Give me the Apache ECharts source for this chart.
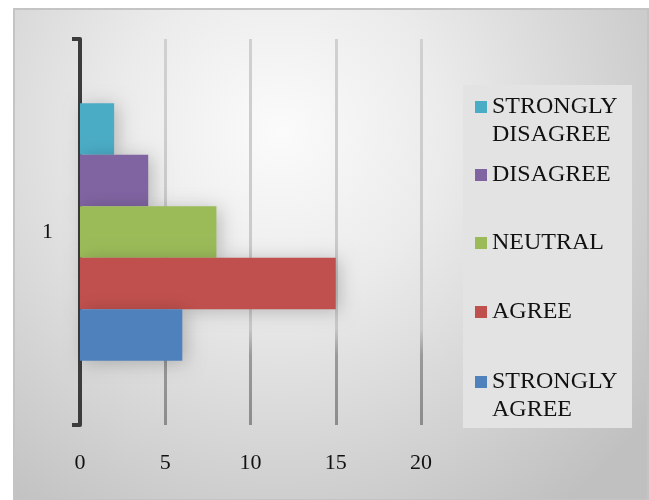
<!DOCTYPE html>
<html>
<head>
<meta charset="utf-8">
<script src="https://cdn.jsdelivr.net/npm/echarts@6/dist/echarts.min.js"></script>
<style>
html,body{margin:0;padding:0;background:#fff;}
#chart{width:649px;height:500px;}
</style>
</head>
<body>
<div id="chart"></div>
<script>
const categories = ['1'];
const seriesNames = ['STRONGLY DISAGREE', 'DISAGREE', 'NEUTRAL', 'AGREE', 'STRONGLY AGREE'];
const stronglyDisagree = [2];
const disagree = [4];
const neutral = [8];
const agree = [15];
const stronglyAgree = [6];
const seriesValues = [stronglyDisagree, disagree, neutral, agree, stronglyAgree];
const colors = ['#4BACC6', '#8064A2', '#9BBB59', '#C0504D', '#4F81BD'];
const xTicks = [0, 5, 10, 15, 20];

const FONT = '"Liberation Serif", "DejaVu Serif", serif';

const legendLabels = {
  'STRONGLY DISAGREE': '\nSTRONGLY\nDISAGREE',
  'DISAGREE': 'DISAGREE',
  'NEUTRAL': 'NEUTRAL',
  'AGREE': 'AGREE',
  'STRONGLY AGREE': '\nSTRONGLY\nAGREE'
};
const legendTops = {
  'STRONGLY DISAGREE': 65,
  'DISAGREE': 161,
  'NEUTRAL': 229,
  'AGREE': 298,
  'STRONGLY AGREE': 340
};

const legends = seriesNames.map(function (name) {
  return {
    data: [name],
    left: 475,
    top: legendTops[name],
    padding: 0,
    itemWidth: 12,
    itemHeight: 12,
    itemGap: 5,
    icon: 'rect',
    selectedMode: false,
    formatter: function (n) { return legendLabels[n]; },
    textStyle: {
      fontFamily: FONT,
      fontSize: 24,
      color: '#111',
      lineHeight: 28
    }
  };
});

const chart = echarts.init(document.getElementById('chart'), null, {renderer: 'canvas'});

chart.setOption({
  backgroundColor: '#ffffff',
  animation: false,
  graphic: [
    {
      type: 'rect',
      z: -10,
      silent: true,
      shape: {x: 14, y: 9, width: 634, height: 491},
      style: {
        fill: {
          type: 'radial', x: 0.42, y: 0.25, r: 0.95,
          colorStops: [
            {offset: 0, color: '#fbfbfb'},
            {offset: 0.35, color: '#ebebeb'},
            {offset: 1, color: '#c0c0c0'}
          ]
        },
        stroke: '#c4c4c4',
        lineWidth: 2
      }
    },
    {
      type: 'rect',
      z: -5,
      silent: true,
      shape: {x: 463, y: 85, width: 169, height: 343},
      style: {fill: '#e3e3e3'}
    }
  ],
  legend: legends,
  grid: {left: 80, top: 39, width: 341, height: 386, containLabel: false},
  xAxis: {
    type: 'value',
    min: xTicks[0],
    max: xTicks[xTicks.length - 1],
    interval: 5,
    axisLine: {show: false},
    axisTick: {show: false},
    axisLabel: {
      margin: 27,
      fontFamily: FONT,
      fontSize: 22,
      color: '#111'
    },
    splitLine: {
      show: true,
      lineStyle: {
        width: 3,
        color: {
          type: 'linear', x: 0, y: 39, x2: 0, y2: 425, global: true,
          colorStops: [
            {offset: 0, color: '#d0d0d0'},
            {offset: 0.75, color: '#c8c8c8'},
            {offset: 0.82, color: '#9a9a9a'},
            {offset: 1, color: '#8c8c8c'}
          ]
        }
      }
    }
  },
  yAxis: {
    type: 'category',
    data: categories,
    axisLine: {show: true, lineStyle: {color: '#3c3c3c', width: 4}},
    axisTick: {show: true, length: 8, lineStyle: {color: '#3c3c3c', width: 4}},
    axisLabel: {
      margin: 27,
      fontFamily: FONT,
      fontSize: 22,
      color: '#111'
    }
  },
  series: seriesNames.map(function (name, i) {
    return {
      name: name,
      type: 'bar',
      data: seriesValues[i],
      barGap: '0%',
      barCategoryGap: '33.3%',
      itemStyle: {
        color: colors[i],
        shadowBlur: 18,
        shadowColor: 'rgba(0,0,0,0.22)',
        shadowOffsetX: 4,
        shadowOffsetY: 2
      },
      emphasis: {disabled: true}
    };
  })
});
</script>
</body>
</html>
